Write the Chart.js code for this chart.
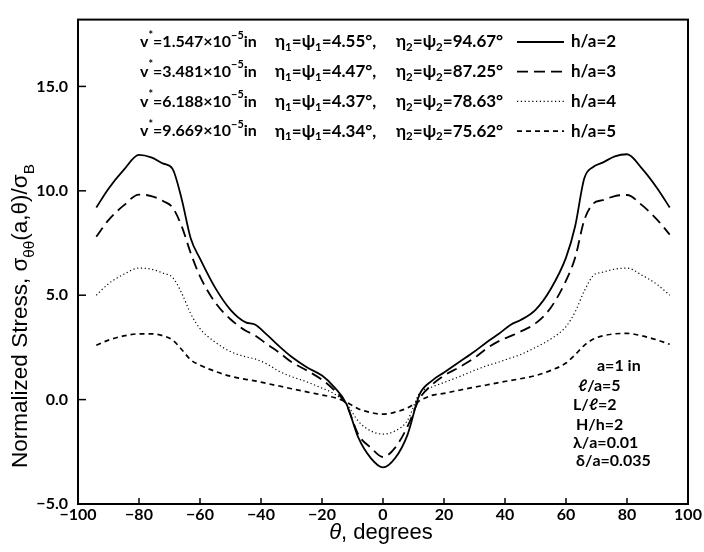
<!DOCTYPE html>
<html>
<head>
<meta charset="utf-8">
<script src="https://cdn.jsdelivr.net/npm/chart.js@4/dist/chart.umd.min.js"></script>
<style>
  html, body { margin: 0; padding: 0; background: #fff; }
  #wrap { width: 704px; height: 552px; }
</style>
</head>
<body>
<div id="wrap"><canvas id="stressChart" width="704" height="552"></canvas></div>
<script>
// angle theta, degrees
const theta = [-94, -90, -85, -80, -76, -72, -69, -66, -63, -60, -55, -50, -45, -42, -38, -34, -30, -25, -20, -16, -12, -8, -4, 0,
               4, 8, 12, 16, 20, 25, 30, 34, 38, 42, 45, 50, 55, 60, 63, 66, 69, 72, 76, 80, 85, 90, 94];

// normalized stress for each h/a
const stressH2 = [9.2, 10.1, 11.0, 11.72, 11.6, 11.3, 11.05, 9.6, 7.7, 6.75, 5.35, 4.3, 3.7, 3.6, 3.1, 2.55, 2.05, 1.55, 1.15, 0.6, -0.2, -1.85, -2.8, -3.25,
                  -2.8, -1.7, 0.25, 0.9, 1.3, 1.8, 2.3, 2.75, 3.15, 3.6, 3.8, 4.3, 5.3, 6.8, 8.3, 10.6, 11.15, 11.35, 11.65, 11.75, 11.05, 10.1, 9.2];
const stressH3 = [7.8, 8.6, 9.3, 9.82, 9.75, 9.5, 9.2, 8.3, 7.0, 5.9, 4.65, 3.85, 3.3, 3.08, 2.65, 2.25, 1.8, 1.4, 0.95, 0.45, -0.25, -1.7, -2.3, -2.75,
                  -2.3, -1.3, 0.05, 0.7, 1.15, 1.55, 2.0, 2.45, 2.8, 3.05, 3.25, 3.65, 4.4, 5.7, 6.8, 8.6, 9.4, 9.55, 9.75, 9.8, 9.3, 8.6, 7.9];
const stressH4 = [5.0, 5.55, 6.0, 6.3, 6.25, 6.05, 5.85, 5.1, 4.1, 3.4, 2.75, 2.3, 2.05, 1.95, 1.7, 1.35, 1.1, 0.85, 0.55, 0.28, -0.2, -1.05, -1.5, -1.65,
                  -1.5, -1.0, 0.3, 0.6, 0.82, 1.1, 1.4, 1.62, 1.8, 2.0, 2.15, 2.5, 2.9, 3.5, 4.2, 5.2, 5.95, 6.1, 6.25, 6.3, 5.95, 5.5, 5.0];
const stressH5 = [2.6, 2.85, 3.05, 3.15, 3.15, 3.05, 2.85, 2.4, 1.9, 1.65, 1.35, 1.12, 0.97, 0.9, 0.77, 0.65, 0.52, 0.37, 0.22, 0.1, -0.12, -0.45, -0.62, -0.7,
                  -0.6, -0.4, -0.05, 0.2, 0.3, 0.45, 0.6, 0.7, 0.82, 0.92, 1.0, 1.15, 1.4, 1.75, 2.15, 2.6, 2.9, 3.05, 3.15, 3.17, 3.05, 2.85, 2.65];

// legend rows
const hOverA = [2, 3, 4, 5];
const vStar = ['1.547', '3.481', '6.188', '9.669'];
const eta1 = ['4.55', '4.47', '4.37', '4.34'];
const eta2 = ['94.67', '87.25', '78.63', '75.62'];

// parameters box
const params = ['a=1 in', 'ℓ/a=5', 'L/ℓ=2', 'H/h=2', 'λ/a=0.01', 'δ/a=0.035'];

const xTicks = [-100, -80, -60, -40, -20, 0, 20, 40, 60, 80, 100];
const yTicks = [-5, 0, 5, 10, 15];

const FONT = 'Lato, "DejaVu Sans", sans-serif';
const TITLE_FONT = '"Liberation Sans", Arial, sans-serif';

function series(values, dash, width) {
    return {
        data: theta.map((t, i) => ({ x: t, y: values[i] })),
        borderColor: '#000',
        borderWidth: width,
        borderDash: dash,
        pointRadius: 0,
        fill: false,
        cubicInterpolationMode: 'monotone'
    };
}

// draw text with sub/superscripts, returns width
function richText(ctx, parts, x, y, size, weight, family, measureOnly) {
    let cx = x;
    parts.forEach(p => {
        let s = size, dy = 0;
        if (p.sub) { s = size * 0.68; dy = size * 0.32; }
        if (p.sup) { s = size * 0.68; dy = -size * 0.42; }
        ctx.font = (p.italic ? 'italic ' : '') + weight + ' ' + s + 'px ' + family;
        if (!measureOnly) ctx.fillText(p.t, cx, y + dy);
        cx += ctx.measureText(p.t).width;
    });
    return cx - x;
}

const decorations = {
    id: 'decorations',
    afterDraw(chart) {
        const ctx = chart.ctx;
        const area = chart.chartArea;
        const xs = chart.scales.x, ys = chart.scales.y;
        ctx.save();
        ctx.fillStyle = '#000';
        ctx.strokeStyle = '#000';

        // frame
        ctx.lineWidth = 2;
        ctx.setLineDash([]);
        ctx.strokeRect(area.left, area.top, area.right - area.left, area.bottom - area.top);

        // inward ticks
        ctx.lineWidth = 1.5;
        xTicks.slice(1, -1).forEach(v => {
            const px = xs.getPixelForValue(v);
            ctx.beginPath(); ctx.moveTo(px, area.bottom); ctx.lineTo(px, area.bottom - 6); ctx.stroke();
        });
        yTicks.slice(1).forEach(v => {
            const py = ys.getPixelForValue(v);
            ctx.beginPath(); ctx.moveTo(area.left, py); ctx.lineTo(area.left + 8, py); ctx.stroke();
        });

        // legend rows
        ctx.textBaseline = 'middle';
        ctx.textAlign = 'left';
        hOverA.forEach((h, i) => {
            const y = 42 + i * 29.7;
            richText(ctx, [{ t: 'v' }, { t: '*', sup: true }, { t: '=' + vStar[i] + '×10' }, { t: '−5', sup: true }, { t: 'in' }],
                140, y, 16, 'bold', FONT);
            richText(ctx, [{ t: 'η' }, { t: '1', sub: true }, { t: '=ψ' }, { t: '1', sub: true }, { t: '=' + eta1[i] + '°,' }],
                275, y, 17, 'bold', FONT);
            richText(ctx, [{ t: 'η' }, { t: '2', sub: true }, { t: '=ψ' }, { t: '2', sub: true }, { t: '=' + eta2[i] + '°' }],
                396, y, 17, 'bold', FONT);
            const ds = chart.data.datasets[i];
            ctx.lineWidth = ds.borderWidth;
            ctx.setLineDash(ds.borderDash);
            ctx.beginPath(); ctx.moveTo(517, y); ctx.lineTo(564, y); ctx.stroke();
            ctx.setLineDash([]);
            richText(ctx, [{ t: 'h/a=' + h }], 571, y, 17, 'bold', FONT);
        });

        // parameter box
        const px = [597, 578, 573, 576, 573, 576];
        const py = [366, 386, 405, 425, 443, 461];
        params.forEach((t, i) => richText(ctx, [{ t: t }], px[i], py[i], 16, 'bold', FONT));

        // y axis title
        const yParts = [{ t: 'Normalized Stress, σ' }, { t: 'θθ', sub: true }, { t: '(a,θ)/σ' }, { t: 'B', sub: true }];
        const w = richText(ctx, yParts, 0, 0, 22.5, 'normal', TITLE_FONT, true);
        ctx.save();
        ctx.translate(27, 316);
        ctx.rotate(-Math.PI / 2);
        ctx.textBaseline = 'alphabetic';
        richText(ctx, yParts, -w / 2, 0, 22.5, 'normal', TITLE_FONT);
        ctx.restore();

        // x axis title
        const xParts = [{ t: 'θ', italic: true }, { t: ', degrees' }];
        const xw = richText(ctx, xParts, 0, 0, 22, 'normal', TITLE_FONT, true);
        ctx.textBaseline = 'alphabetic';
        richText(ctx, xParts, 381 - xw / 2, 539, 22, 'normal', TITLE_FONT);

        ctx.restore();
    }
};

const ctx = document.getElementById('stressChart').getContext('2d');

new Chart(ctx, {
    type: 'line',
    data: {
        datasets: [
            series(stressH2, [], 1.8),
            series(stressH3, [11, 6], 1.8),
            series(stressH4, [1.2, 2.6], 1.2),
            series(stressH5, [5, 4], 1.7)
        ]
    },
    plugins: [decorations],
    options: {
        responsive: false,
        animation: false,
        layout: { padding: { top: 4, right: 16, left: 0, bottom: 0 } },
        plugins: { legend: { display: false }, tooltip: { enabled: false } },
        scales: {
            x: {
                type: 'linear',
                min: -100,
                max: 100,
                grid: { display: false, drawTicks: false },
                border: { display: false },
                afterBuildTicks: s => { s.ticks = xTicks.map(v => ({ value: v })); },
                afterFit: s => { s.height = 48; },
                ticks: {
                    color: '#000',
                    padding: 1,
                    autoSkip: false,
                    maxRotation: 0,
                    font: { family: FONT, size: 16, weight: 'bold' },
                    callback: v => String(v).replace('-', '−')
                }
            },
            y: {
                type: 'linear',
                min: -5,
                max: 18.2,
                grid: { display: false, drawTicks: false },
                border: { display: false },
                afterBuildTicks: s => { s.ticks = yTicks.map(v => ({ value: v })); },
                afterFit: s => { s.width = 78; },
                ticks: {
                    color: '#000',
                    padding: 10,
                    font: { family: FONT, size: 16, weight: 'bold' },
                    callback: v => v.toFixed(1).replace('-', '−')
                }
            }
        }
    }
});
</script>
</body>
</html>
